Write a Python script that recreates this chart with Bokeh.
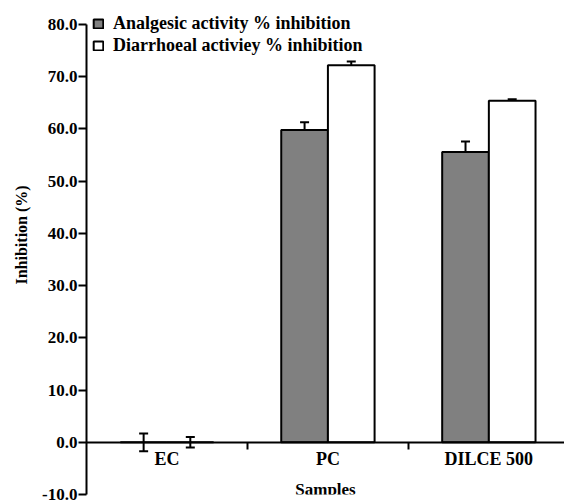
from bokeh.plotting import figure
from bokeh.models import (ColumnDataSource, Range1d, FixedTicker, LinearAxis, Title,
                          NumeralTickFormatter, Whisker, TeeHead, Legend, LegendItem)
from bokeh.embed import file_html
from bokeh.resources import INLINE

categories = ["EC", "PC", "DILCE 500"]
analgesic = [0.0, 59.8, 55.6]
analgesic_err = [1.7, 1.5, 2.0]
diarrhoeal = [0.0, 72.2, 65.4]
diarrhoeal_err = [1.0, 0.7, 0.3]
series_names = ["Analgesic activity % inhibition", "Diarrhoeal activiey % inhibition"]
y_ticks = [-10, 0, 10, 20, 30, 40, 50, 60, 70, 80]

FONT = "Liberation Serif"
bw = 0.29
centers = [i + 0.5 for i in range(len(categories))]
xa = [c - bw / 2 for c in centers]
xd = [c + bw / 2 for c in centers]

src_a = ColumnDataSource(dict(x=xa, top=analgesic,
                              upper=[v + e for v, e in zip(analgesic, analgesic_err)],
                              lower=[v - e for v, e in zip(analgesic, analgesic_err)]))
src_d = ColumnDataSource(dict(x=xd, top=diarrhoeal,
                              upper=[v + e for v, e in zip(diarrhoeal, diarrhoeal_err)],
                              lower=[v - e for v, e in zip(diarrhoeal, diarrhoeal_err)]))

p = figure(width=564, height=504, x_range=Range1d(0, 2.97), y_range=Range1d(-10, 83.06),
           output_backend="svg", toolbar_location=None, x_axis_location=None,
           y_axis_location="left", min_border_left=86, min_border_top=8,
           min_border_bottom=10, min_border_right=0)
p.outline_line_color = None
p.xgrid.visible = False
p.ygrid.visible = False

r1 = p.vbar(x="x", top="top", bottom=0, width=bw, source=src_a,
            fill_color="#808080", line_color="black", line_width=2)
r2 = p.vbar(x="x", top="top", bottom=0, width=bw, source=src_d,
            fill_color="white", line_color="black", line_width=2)

for src in (src_a, src_d):
    p.add_layout(Whisker(base="x", upper="upper", lower="lower", source=src,
                         line_color="black", line_width=2,
                         upper_head=TeeHead(size=9, line_width=2, line_color="black"),
                         lower_head=TeeHead(size=9, line_width=2, line_color="black")))

# y axis
ya = p.yaxis[0]
ya.bounds = (-10, 80)
ya.ticker = FixedTicker(ticks=y_ticks)
ya.formatter = NumeralTickFormatter(format="0.0")
ya.axis_line_width = 2
ya.axis_line_color = "black"
ya.major_tick_line_width = 2
ya.major_tick_line_color = "black"
ya.major_tick_out = 8
ya.major_tick_in = 0
ya.minor_tick_line_color = None
ya.major_label_text_font = FONT
ya.major_label_text_font_style = "bold"
ya.major_label_text_font_size = "17px"
ya.major_label_text_color = "black"
ya.major_label_standoff = 1

p.add_layout(Title(text="Inhibition (%)", align="left", offset=210,
                   text_font=FONT, text_font_style="bold", text_font_size="16px",
                   text_color="black", standoff=20), "left")

# x axis drawn at y = 0: boundary ticks
xa_ticks = LinearAxis(fixed_location=0,
                      ticker=FixedTicker(ticks=list(range(1, len(categories)))),
                      major_label_overrides={i: "" for i in range(1, len(categories))},
                      axis_line_width=2, axis_line_color="black",
                      major_tick_line_width=2, major_tick_line_color="black",
                      major_tick_out=7, major_tick_in=0, minor_tick_line_color=None)
p.add_layout(xa_ticks, "below")
# category labels
xa_labels = LinearAxis(fixed_location=0, ticker=FixedTicker(ticks=centers),
                       major_label_overrides={c: n for c, n in zip(centers, categories)},
                       axis_line_color=None, major_tick_line_color=None,
                       major_tick_out=0, major_tick_in=0, minor_tick_line_color=None,
                       major_label_standoff=7,
                       major_label_text_font=FONT, major_label_text_font_style="bold",
                       major_label_text_font_size="18px", major_label_text_color="black",
                       axis_label="Samples", axis_label_text_font=FONT,
                       axis_label_text_font_style="bold", axis_label_text_font_size="17px",
                       axis_label_text_color="black", axis_label_standoff=7)
p.add_layout(xa_labels, "below")

legend = Legend(items=[LegendItem(label=series_names[0], renderers=[r1]),
                       LegendItem(label=series_names[1], renderers=[r2])],
                location=(6, 438), padding=0, margin=0, spacing=0,
                glyph_width=12, glyph_height=11, label_height=22, label_standoff=9,
                label_text_font=FONT, label_text_font_style="bold",
                label_text_font_size="18px", label_text_color="black",
                border_line_color=None, background_fill_alpha=0)
p.add_layout(legend)

open("out.html", "w").write(file_html(p, INLINE))
